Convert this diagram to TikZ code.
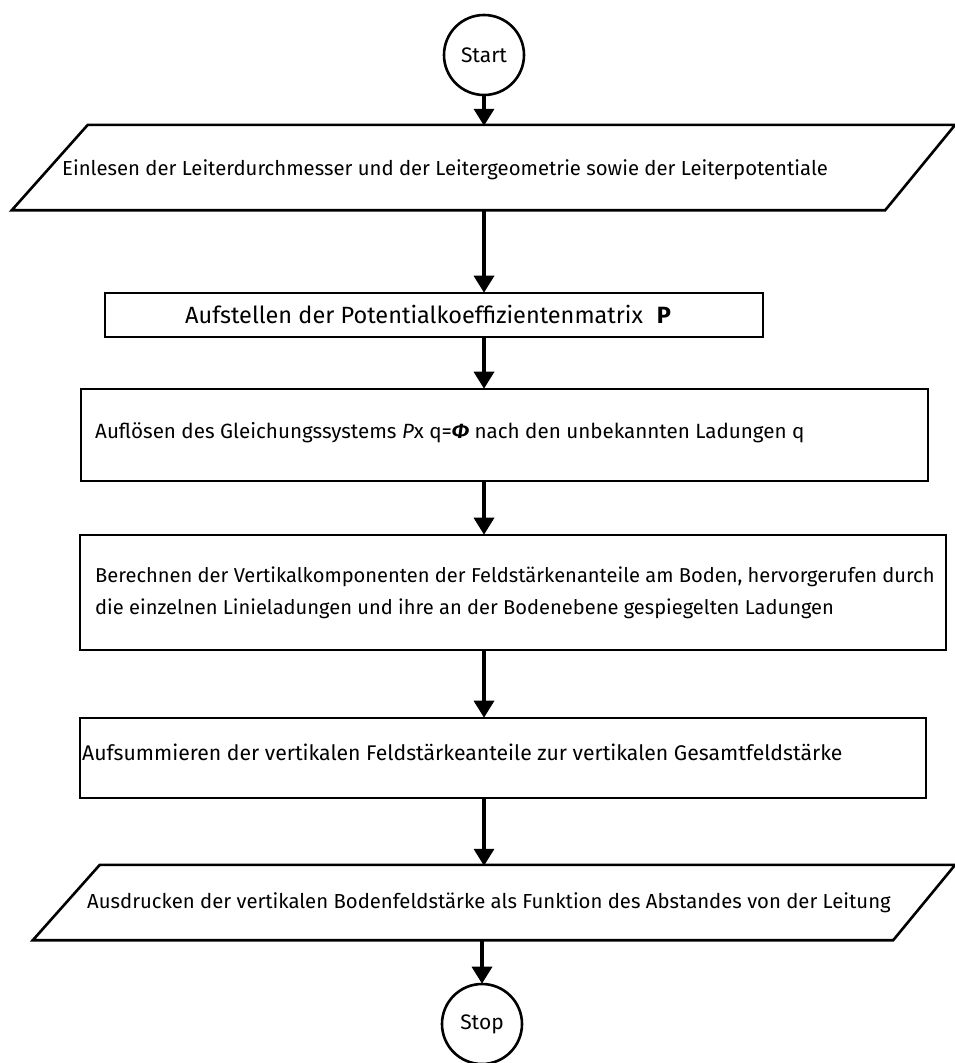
\documentclass[tikz,border=0pt]{standalone}
\usepackage{fontspec}
\setmainfont{Fira Sans}
\usetikzlibrary{arrows.meta,calc}
\tikzset{
  boxline/.style={draw=black, line width=2.6pt, line join=miter},
  procbox/.style={boxline, rectangle, inner sep=0pt},
  ghost/.style={rectangle, inner sep=0pt, draw=none},
  term/.style={boxline, circle, inner sep=0pt, minimum size=80pt, font=\fontsize{21}{25}\selectfont},
  label/.style={anchor=west, inner sep=0pt, font=\fontsize{20.3}{24}\selectfont},
  fs/.style={font=\fontsize{#1}{24}\selectfont},
  flow/.style={line width=3.5pt, -{Triangle[width=20pt,length=17pt]}, shorten >=-1pt}
}
\begin{document}
\begin{tikzpicture}[x=1pt,y=-1pt]
\useasboundingbox (0,0) rectangle (955,1063);
% terminals
\node[term] (start) at (484,55) {Start};
\node[term] (stop) at (482,1024) {Stop};
% input parallelogram 1
\node[ghost, minimum width=943pt, minimum height=85pt] (p1) at (483.5,167.5) {};
\draw[boxline] ($(p1.north west)+(76,0)$) -- (p1.north east) -- ($(p1.south east)+(-70,0)$) -- (p1.south west) -- cycle;
\node[label] (t1) at (62,170) {Einlesen der Leiterdurchmesser und der Leitergeometrie sowie der Leiterpotentiale};
% box 2
\node[procbox, minimum width=658pt, minimum height=44pt] (b2) at (434,315) {};
\node[label, fs=23.5] (t2) at (185,314) {Aufstellen der Potentialkoeffizientenmatrix\hspace{14pt}\textbf{P}};
% box 3
\node[procbox, minimum width=847pt, minimum height=92pt] (b3) at (504.5,435) {};
\node[label, fs=20.6] (t3) at (95,433) {Auflösen des Gleichungssystems \textit{P}x q=\textbf{\textit{Φ}} nach den unbekannten Ladungen q};
% box 4
\node[procbox, minimum width=866pt, minimum height=115pt] (b4) at (513,592.5) {};
\node[label, fs=20.1] (t4a) at (95,577) {Berechnen der Vertikalkomponenten der Feldstärkenanteile am Boden, hervorgerufen durch};
\node[label, fs=20.1] (t4b) at (95,609) {die einzelnen Linieladungen und ihre an der Bodenebene gespiegelten Ladungen};
% box 5
\node[procbox, minimum width=846pt, minimum height=80pt] (b5) at (503,758) {};
\node[label, fs=21.2] (t5) at (82,752) {Aufsummieren der vertikalen Feldstärkeanteile zur vertikalen Gesamtfeldstärke};
% output parallelogram 2
\node[ghost, minimum width=922pt, minimum height=75pt] (p2) at (494,902.5) {};
\draw[boxline] ($(p2.north west)+(67,0)$) -- (p2.north east) -- ($(p2.south east)+(-62,0)$) -- (p2.south west) -- cycle;
\node[label] (t6) at (87,903) {Ausdrucken der vertikalen Bodenfeldstärke als Funktion des Abstandes von der Leitung};
% connectors
\draw[flow] (start.south) -- (start.south |- p1.north);
\draw[flow] (start.south |- p1.south) -- (start.south |- b2.north);
\draw[flow] (start.south |- b2.south) -- (start.south |- b3.north);
\draw[flow] (start.south |- b3.south) -- (start.south |- b4.north);
\draw[flow] (start.south |- b4.south) -- (start.south |- b5.north);
\draw[flow] (start.south |- b5.south) -- (start.south |- p2.north);
\draw[flow] (stop.north |- p2.south) -- (stop.north);
\end{tikzpicture}
\end{document}
